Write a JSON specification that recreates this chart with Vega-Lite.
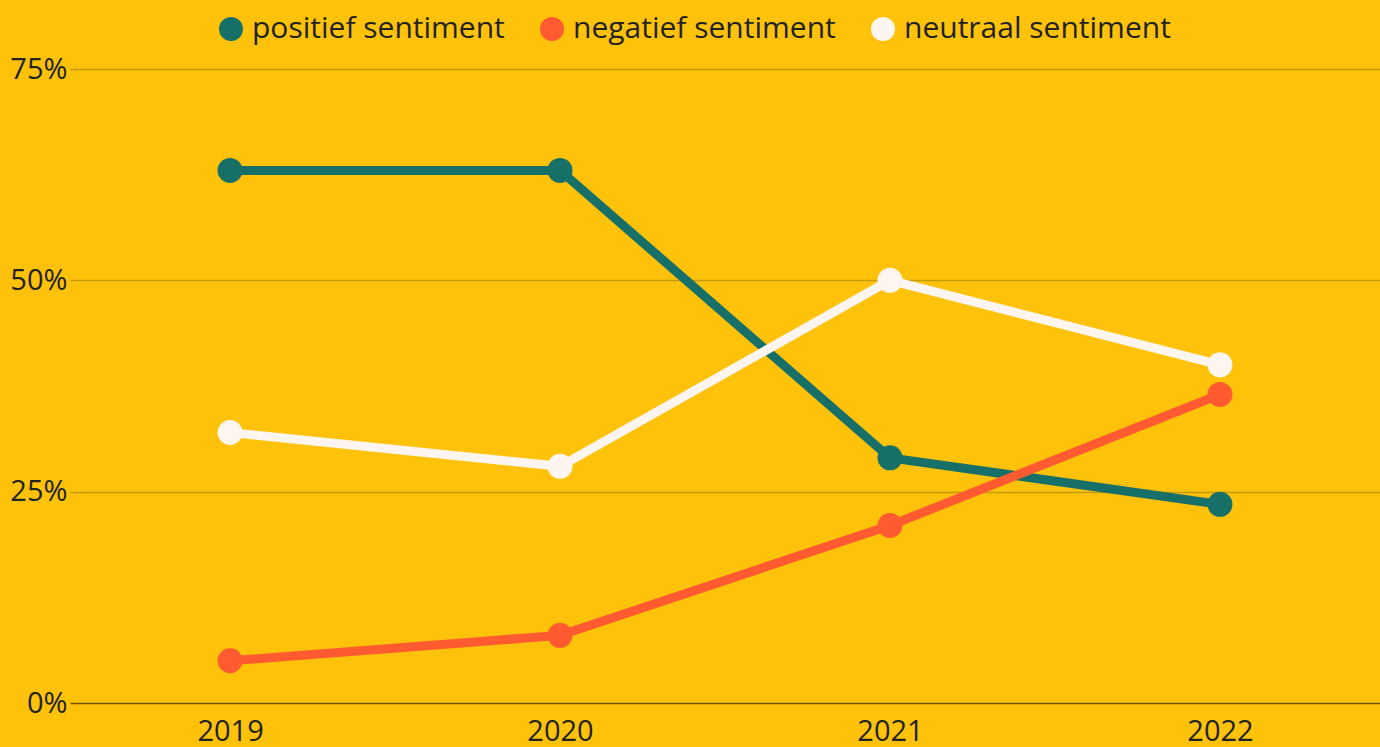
{
  "$schema": "https://vega.github.io/schema/vega-lite/v6.json",
  "width": 1310,
  "height": 634,
  "autosize": "none",
  "padding": {"left": 70, "top": 69, "right": 0, "bottom": 44},
  "background": "#ffc20a",
  "config": {
    "view": {"stroke": null},
    "font": "Open Sans",
    "axis": {"labelFont": "Open Sans", "labelColor": "#222222", "labelFontSize": 29}
  },
  "data": {
    "values": [
      {"jaar": "2019", "sentiment": "positief sentiment", "waarde": 63},
      {"jaar": "2020", "sentiment": "positief sentiment", "waarde": 63},
      {"jaar": "2021", "sentiment": "positief sentiment", "waarde": 29},
      {"jaar": "2022", "sentiment": "positief sentiment", "waarde": 23.5},
      {"jaar": "2019", "sentiment": "negatief sentiment", "waarde": 5},
      {"jaar": "2020", "sentiment": "negatief sentiment", "waarde": 8},
      {"jaar": "2021", "sentiment": "negatief sentiment", "waarde": 21},
      {"jaar": "2022", "sentiment": "negatief sentiment", "waarde": 36.5},
      {"jaar": "2019", "sentiment": "neutraal sentiment", "waarde": 32},
      {"jaar": "2020", "sentiment": "neutraal sentiment", "waarde": 28},
      {"jaar": "2021", "sentiment": "neutraal sentiment", "waarde": 50},
      {"jaar": "2022", "sentiment": "neutraal sentiment", "waarde": 40}
    ]
  },
  "encoding": {
    "x": {
      "field": "jaar", "type": "ordinal",
      "scale": {"type": "point", "padding": 0.485},
      "axis": {"title": null, "domain": false, "ticks": false, "grid": false, "labelAngle": 0, "labelPadding": 14}
    },
    "y": {
      "field": "waarde", "type": "quantitative",
      "scale": {"domain": [0, 75], "nice": false},
      "axis": {
        "title": null, "domain": false, "ticks": false,
        "values": [0, 25, 50, 75],
        "labelExpr": "datum.value + '%'",
        "labelPadding": 3,
        "gridColor": {"condition": {"test": "datum.value === 0", "value": "#6e5a12"}, "value": "#c49a0c"},
        "gridWidth": 1.5, "gridOpacity": 1
      }
    },
    "color": {
      "field": "sentiment", "type": "nominal",
      "scale": {
        "domain": ["positief sentiment", "negatief sentiment", "neutraal sentiment"],
        "range": ["#167067", "#ff5a30", "#fdf5ef"]
      },
      "legend": {
        "title": null, "orient": "none", "direction": "horizontal",
        "legendX": 146, "legendY": -55,
        "symbolType": "circle", "symbolSize": 576, "symbolStrokeWidth": 0, "symbolOpacity": 1,
        "labelFontSize": 30, "labelColor": "#222222", "labelFont": "Open Sans",
        "labelOffset": 6, "columnPadding": 32, "labelLimit": 400
      }
    }
  },
  "layer": [
    {"mark": {"type": "line", "strokeWidth": 9}},
    {"mark": {"type": "point", "filled": true, "size": 625, "opacity": 1}}
  ]
}
